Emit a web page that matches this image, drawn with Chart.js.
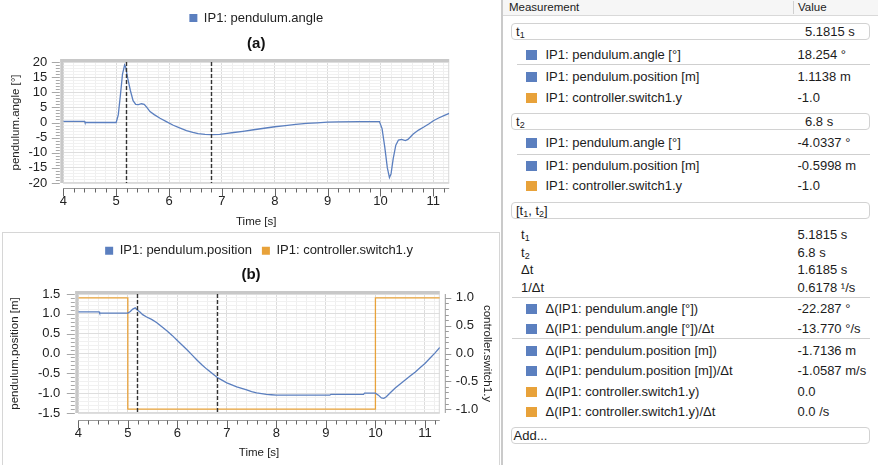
<!DOCTYPE html>
<html>
<head>
<meta charset="utf-8">
<script src="https://cdn.jsdelivr.net/npm/chart.js@4.4.1/dist/chart.umd.min.js"></script>
<style>
  html, body { margin:0; padding:0; background:#fff; }
  body { width:878px; height:465px; position:relative; overflow:hidden; font-family:"Liberation Sans", Arial, sans-serif; color:#1c1c1c; }
  canvas { position:absolute; left:0; }
  #cA { top:0; }
  #cB { top:233px; }
  #frameB { position:absolute; left:2px; top:232px; width:498px; height:260px; border:1px solid #d6d6d6; box-sizing:border-box; }
  #panel { position:absolute; left:501px; top:0; width:377px; height:465px; border-left:2px solid #cacaca; box-sizing:border-box; background:#fff; z-index:5; }
  #head { position:absolute; left:0; top:0; width:375px; height:15px; background:#f6f6f6; border-bottom:1px solid #d9d9d9; font-size:11.5px; line-height:15px; }
  #head .m { position:absolute; left:6px; top:0; }
  #head .v { position:absolute; left:295px; top:0; }
  #head .d { position:absolute; left:290px; top:1px; width:1px; height:13px; background:#d0d0d0; }
  .row { position:absolute; left:0; width:375px; height:16px; line-height:16px; font-size:13px; white-space:nowrap; }
  .row .l { position:absolute; top:0; }
  .row .v { position:absolute; top:0; left:294.5px; }
  .row .s { position:absolute; left:23px; top:3px; width:11px; height:10px; }
  .box { position:absolute; left:8px; width:359px; height:17px; border:1px solid #d2d2d2; border-radius:4px; box-sizing:border-box; background:#fff; font-size:13px; line-height:15px; white-space:nowrap; }
  .box .l { position:absolute; left:4px; top:0; }
  .box .v { position:absolute; left:293px; top:0; }
  .sep { position:absolute; height:1px; background:#cfcfcf; }
  sub { font-size:9px; vertical-align:-2px; line-height:0; }
</style>
</head>
<body>
<canvas id="cA" width="500" height="232"></canvas>
<div id="frameB"></div>
<canvas id="cB" width="500" height="232"></canvas>
<div id="panel">
  <div id="head"><span class="m">Measurement</span><span class="d"></span><span class="v">Value</span></div>
</div>
<script>
// ---------------- data ----------------
const timeRange = [4, 11.3];
const cursorTimes = [5.1815, 6.8];

const angleTime = [4.0,4.4,4.41,5.0,5.04,5.08,5.12,5.16,5.18,5.22,5.27,5.32,5.37,5.42,5.48,5.53,5.58,5.64,5.72,5.83,5.95,6.08,6.2,6.33,6.45,6.55,6.68,6.8,6.96,7.1,7.22,7.4,7.6,7.8,8.0,8.2,8.4,8.6,8.8,9.0,9.2,9.6,9.98,10.03,10.08,10.13,10.17,10.2,10.24,10.29,10.34,10.4,10.47,10.52,10.62,10.72,10.82,10.92,11.0,11.1,11.2,11.3];
const angleValues = [0.4,0.4,0.0,0.0,2.5,9.0,16.0,19.0,18.3,14.5,10.5,7.2,6.0,5.9,6.2,6.0,5.0,3.6,2.6,1.4,0.3,-0.9,-1.8,-2.7,-3.3,-3.7,-3.9,-4.03,-3.9,-3.6,-3.3,-2.9,-2.4,-1.9,-1.4,-1.0,-0.6,-0.3,-0.1,0.1,0.2,0.3,0.3,-2.0,-8.0,-15.0,-18.2,-17.0,-12.0,-7.5,-5.8,-5.6,-6.0,-5.6,-3.8,-2.5,-1.5,-0.4,0.6,1.5,2.3,3.0];

const positionTime = [4.0,4.42,4.43,5.0,5.05,5.1,5.15,5.18,5.25,5.3,5.38,5.48,5.58,5.7,5.8,5.9,6.0,6.1,6.2,6.3,6.4,6.5,6.6,6.7,6.8,6.9,7.0,7.1,7.2,7.3,7.4,7.5,7.6,7.7,7.8,7.9,8.0,9.08,9.1,9.76,9.78,10.0,10.06,10.12,10.17,10.22,10.3,10.4,10.5,10.6,10.7,10.8,10.9,11.0,11.1,11.2,11.3];
const positionValues = [1.05,1.05,1.02,1.02,1.06,1.12,1.15,1.11,1.04,0.98,0.92,0.86,0.78,0.66,0.56,0.45,0.33,0.21,0.09,-0.04,-0.17,-0.29,-0.40,-0.50,-0.60,-0.67,-0.74,-0.79,-0.84,-0.88,-0.92,-0.96,-0.99,-1.01,-1.03,-1.04,-1.05,-1.05,-1.03,-1.03,-1.0,-1.0,-1.05,-1.12,-1.13,-1.09,-0.99,-0.87,-0.77,-0.67,-0.57,-0.47,-0.36,-0.25,-0.12,0.01,0.15];

const switchTime = [4, 5, 5, 10, 10, 11.3];
const switchValues = [1, 1, -1, -1, 1, 1];

const angleRange = [-20, 20];
const positionRange = [-1.5, 1.5];
const switchRange = [-1.07, 1.07];

const seriesNames = ['IP1: pendulum.angle', 'IP1: pendulum.position', 'IP1: controller.switch1.y'];
const axisTitles = ['pendulum.angle [°]', 'pendulum.position [m]', 'controller.switch1.y', 'Time [s]'];
const chartTitles = ['(a)', '(b)'];

// ---------------- style ----------------
const BLUE = '#5b7fbf', ORANGE = '#e8a23a';
const FONT = '"Liberation Sans", Arial, sans-serif';
Chart.defaults.font.family = FONT;
Chart.defaults.color = '#222';

const pts = (xs, ys) => xs.map((x, i) => ({x, y: ys[i]}));
const isMult = (v, step) => Math.abs(v / step - Math.round(v / step)) < 1e-6;

const decor = {
  id: 'decor',
  beforeDatasetsDraw(chart, args, o) {
    const {ctx, chartArea: a} = chart;
    ctx.save();
    ctx.strokeStyle = '#dadada'; ctx.lineWidth = 1;
    ctx.beginPath();
    ctx.moveTo(a.right - 0.5, a.top); ctx.lineTo(a.right - 0.5, a.bottom);
    ctx.moveTo(a.left, a.bottom - 0.5); ctx.lineTo(a.right, a.bottom - 0.5);
    ctx.stroke();
    ctx.fillStyle = '#c8c8c8';
    ctx.fillRect(a.left - 3, a.top - 3, a.right - a.left + 3, 3);
    ctx.fillRect(a.left - 3, a.top - 3, 3, a.bottom - a.top + 3);
    ctx.restore();
  },
  afterDatasetsDraw(chart) {
    const {ctx, chartArea: a, scales} = chart;
    ctx.save();
    ctx.strokeStyle = '#333'; ctx.lineWidth = 1.4; ctx.setLineDash([4, 2]);
    cursorTimes.forEach(t => {
      const px = Math.round(scales.x.getPixelForValue(t)) + 0.5;
      ctx.beginPath(); ctx.moveTo(px, a.top); ctx.lineTo(px, a.bottom); ctx.stroke();
    });
    ctx.restore();
  },
  afterDraw(chart, args, o) {
    const {ctx, chartArea: a, scales} = chart;
    ctx.save();
    // x axis
    const y0 = a.bottom + o.xGap + 0.5;
    ctx.strokeStyle = '#9a9a9a'; ctx.lineWidth = 1;
    ctx.beginPath(); ctx.moveTo(a.left, y0); ctx.lineTo(a.right, y0); ctx.stroke();
    ctx.strokeStyle = '#666';
    ctx.beginPath();
    scales.x.ticks.forEach(t => {
      const px = Math.round(scales.x.getPixelForValue(t.value)) + 0.5;
      const len = isMult(t.value, 1) ? 8 : 4;
      ctx.moveTo(px, y0); ctx.lineTo(px, y0 + len);
    });
    ctx.stroke();
    // left axis
    const x0 = a.left - 3.5;
    ctx.strokeStyle = '#a8a8a8';
    ctx.beginPath();
    scales.y.ticks.forEach(t => {
      const py = Math.round(scales.y.getPixelForValue(t.value)) + 0.5;
      const len = isMult(t.value, o.yMajor) ? 8 : 4;
      ctx.moveTo(x0, py); ctx.lineTo(x0 - len, py);
    });
    ctx.stroke();
    // right axis
    if (scales.y2) {
      const x1 = a.right + 5.5;
      ctx.strokeStyle = '#9a9a9a';
      ctx.beginPath(); ctx.moveTo(x1, a.top); ctx.lineTo(x1, a.bottom); ctx.stroke();
      ctx.beginPath();
      scales.y2.ticks.forEach(t => {
        const py = Math.round(scales.y2.getPixelForValue(t.value)) + 0.5;
        const len = isMult(t.value, 0.5) ? 6 : 3.5;
        ctx.moveTo(x1, py); ctx.lineTo(x1 + len, py);
      });
      ctx.stroke();
    }
    ctx.restore();
  }
};

const legendLabels = {
  boxWidth: 8, boxHeight: 8, padding: 10, color: '#222', font: {size: 13},
  generateLabels: (chart) => Chart.defaults.plugins.legend.labels.generateLabels(chart).map(l => Object.assign(l, {lineWidth: 0}))
};

function xScale(pad, titlePadBottom, height) {
  return {
    type: 'linear', min: timeRange[0], max: timeRange[1],
    border: {display: false},
    grid: {drawTicks: false, lineWidth: 1, color: c => isMult(c.tick.value, 1) ? '#dcdcdc' : '#efefef'},
    ticks: {stepSize: 0.2, includeBounds: false, autoSkip: false, maxRotation: 0, padding: pad, color: '#222', font: {size: 13},
            callback: v => isMult(v, 1) ? String(Math.round(v)) : ''},
    title: {display: true, text: axisTitles[3], color: '#222', font: {size: 11.5}, padding: {top: 2, bottom: titlePadBottom}},
    afterFit: s => { s.height = height; }
  };
}

// ---------------- chart (a) ----------------
new Chart(document.getElementById('cA'), {
  type: 'line',
  data: { datasets: [{ label: seriesNames[0], data: pts(angleTime, angleValues), borderColor: BLUE, backgroundColor: BLUE, borderWidth: 1.3, pointRadius: 0, tension: 0, fill: false }] },
  options: {
    responsive: false, animation: false, devicePixelRatio: 1, events: [],
    layout: {padding: {left: 4.5, right: 50.8, top: 1.5, bottom: 0}},
    plugins: {
      legend: {position: 'top', fullSize: false, weight: 3000, labels: legendLabels},
      title: {display: true, text: chartTitles[0], fullSize: false, color: '#111', font: {size: 15, weight: 'bold', lineHeight: 1}, padding: {top: 2.3, bottom: 10.2}},
      tooltip: {enabled: false},
      decor: {xGap: 5, yMajor: 5}
    },
    scales: {
      x: xScale(10.9, 3.4, 49),
      y: {
        min: angleRange[0], max: angleRange[1],
        border: {display: false},
        grid: {drawTicks: false, color: c => isMult(c.tick.value, 5) ? '#dedede' : '#f1f1f1'},
        ticks: {stepSize: 1, includeBounds: false, autoSkip: false, padding: 16, color: '#222', font: {size: 13},
                callback: v => isMult(v, 5) ? String(Math.round(v)) : ''},
        title: {display: true, text: axisTitles[0], color: '#222', font: {size: 11.5}, padding: {top: 4, bottom: 2}},
        afterFit: s => { s.width = 58.8; }
      }
    }
  },
  plugins: [decor]
});

// ---------------- chart (b) ----------------
new Chart(document.getElementById('cB'), {
  type: 'line',
  data: { datasets: [
    { label: seriesNames[1], data: pts(positionTime, positionValues), yAxisID: 'y', borderColor: BLUE, backgroundColor: BLUE, borderWidth: 1.3, pointRadius: 0, tension: 0, fill: false },
    { label: seriesNames[2], data: pts(switchTime, switchValues), yAxisID: 'y2', borderColor: ORANGE, backgroundColor: ORANGE, borderWidth: 1.3, pointRadius: 0, tension: 0, fill: false }
  ] },
  options: {
    responsive: false, animation: false, devicePixelRatio: 1, events: [],
    layout: {padding: {left: 4.1, right: 2.1, top: 1.2, bottom: 0}},
    plugins: {
      legend: {position: 'top', fullSize: false, weight: 3000, labels: legendLabels},
      title: {display: true, text: chartTitles[1], fullSize: true, color: '#111', font: {size: 15, weight: 'bold', lineHeight: 1}, padding: {top: 0.3, bottom: 11.5}},
      tooltip: {enabled: false},
      decor: {xGap: 7, yMajor: 0.5}
    },
    scales: {
      x: xScale(12.2, 5.4, 52),
      y: {
        position: 'left', min: positionRange[0], max: positionRange[1],
        border: {display: false},
        grid: {drawTicks: false, color: c => isMult(c.tick.value, 0.5) ? '#dedede' : '#f1f1f1'},
        ticks: {stepSize: 0.1, includeBounds: false, autoSkip: false, padding: 18, color: '#222', font: {size: 13},
                callback: v => isMult(v, 0.5) ? v.toFixed(1) : ''},
        title: {display: true, text: axisTitles[1], color: '#222', font: {size: 11.5}, padding: {top: 4, bottom: 2}},
        afterFit: s => { s.width = 74.2; }
      },
      y2: {
        position: 'right', min: switchRange[0], max: switchRange[1],
        border: {display: false},
        grid: {drawTicks: false, drawOnChartArea: false},
        ticks: {stepSize: 0.1, includeBounds: false, autoSkip: false, padding: 16, color: '#222', font: {size: 13},
                callback: v => isMult(v, 0.5) ? v.toFixed(1) : ''},
        title: {display: true, text: axisTitles[2], color: '#222', font: {size: 11.5}, padding: {top: 4, bottom: 2}},
        afterFit: s => { s.width = 58.1; }
      }
    }
  },
  plugins: [decor]
});

// ---------------- measurement table ----------------
const tableRows = [
  {k: 'box', y: 23, label: 't<sub>1</sub>', value: '5.1815 s'},
  {k: 'sq', y: 55, c: BLUE, label: 'IP1: pendulum.angle [°]', value: '18.254 °'},
  {k: 'sep', y: 64, x: 13.7},
  {k: 'sq', y: 76.7, c: BLUE, label: 'IP1: pendulum.position [m]', value: '1.1138 m'},
  {k: 'sq', y: 97.7, c: ORANGE, label: 'IP1: controller.switch1.y', value: '-1.0'},
  {k: 'box', y: 113, label: 't<sub>2</sub>', value: '6.8 s'},
  {k: 'sq', y: 143.3, c: BLUE, label: 'IP1: pendulum.angle [°]', value: '-4.0337 °'},
  {k: 'sep', y: 154, x: 13.7},
  {k: 'sq', y: 166, c: BLUE, label: 'IP1: pendulum.position [m]', value: '-0.5998 m'},
  {k: 'sq', y: 186, c: ORANGE, label: 'IP1: controller.switch1.y', value: '-1.0'},
  {k: 'box', y: 202, label: '[t<sub>1</sub>, t<sub>2</sub>]', value: ''},
  {k: 'plain', y: 235, label: 't<sub>1</sub>', value: '5.1815 s'},
  {k: 'plain', y: 252.7, label: 't<sub>2</sub>', value: '6.8 s'},
  {k: 'plain', y: 270, label: 'Δt', value: '1.6185 s'},
  {k: 'plain', y: 288.3, label: '1/Δt', value: '0.6178 ¹/s'},
  {k: 'sep', y: 296.7, x: 9},
  {k: 'sq', y: 309.3, c: BLUE, label: 'Δ(IP1: pendulum.angle [°])', value: '-22.287 °'},
  {k: 'sq', y: 329.3, c: BLUE, label: 'Δ(IP1: pendulum.angle [°])/Δt', value: '-13.770 °/s'},
  {k: 'sep', y: 338.3, x: 9},
  {k: 'sq', y: 350.7, c: BLUE, label: 'Δ(IP1: pendulum.position [m])', value: '-1.7136 m'},
  {k: 'sq', y: 371, c: BLUE, label: 'Δ(IP1: pendulum.position [m])/Δt', value: '-1.0587 m/s'},
  {k: 'sq', y: 391.7, c: ORANGE, label: 'Δ(IP1: controller.switch1.y)', value: '0.0'},
  {k: 'sq', y: 411.7, c: ORANGE, label: 'Δ(IP1: controller.switch1.y)/Δt', value: '0.0 /s'},
  {k: 'add', y: 427, label: 'Add...'}
];
const panel = document.getElementById('panel');
tableRows.forEach(r => {
  const d = document.createElement('div');
  if (r.k === 'sep') {
    d.className = 'sep';
    d.style.top = r.y + 'px'; d.style.left = r.x + 'px'; d.style.width = (367 - r.x) + 'px';
  } else if (r.k === 'box' || r.k === 'add') {
    d.className = 'box';
    d.style.top = r.y + 'px';
    d.innerHTML = '<span class="l"' + (r.k === 'add' ? ' style="left:1.5px"' : '') + '>' + r.label + '</span>' + (r.value ? '<span class="v">' + r.value + '</span>' : '');
  } else {
    d.className = 'row';
    d.style.top = (r.y - 8) + 'px';
    let h = '';
    if (r.k === 'sq') h += '<span class="s" style="background:' + r.c + '"></span><span class="l" style="left:42.5px">' + r.label + '</span>';
    else h += '<span class="l" style="left:18px">' + r.label + '</span>';
    h += '<span class="v">' + r.value + '</span>';
    d.innerHTML = h;
  }
  panel.appendChild(d);
});
</script>
</body>
</html>
